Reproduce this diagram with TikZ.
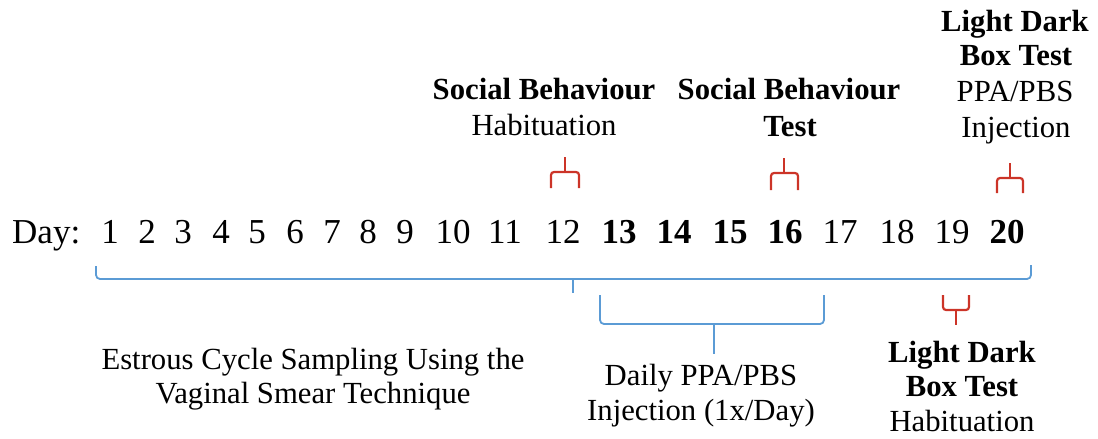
\documentclass[tikz,border=0pt]{standalone}
\usepackage{fontspec}
\setmainfont{Liberation Serif}
\definecolor{bracketblue}{RGB}{91,155,213}
\definecolor{bracketred}{RGB}{204,52,40}
\begin{document}
\begin{tikzpicture}[x=1pt,y=-1pt,
  num/.style={anchor=base,inner sep=0pt,font=\fontsize{35}{40}\selectfont},
  bnum/.style={num,font=\fontsize{35}{40}\selectfont\bfseries},
  lbl/.style={anchor=base,inner sep=0pt,font=\fontsize{30.7}{35}\selectfont},
  blbl/.style={lbl,font=\fontsize{30.7}{35}\selectfont\bfseries},
  bluebr/.style={draw=bracketblue,line width=1.8pt,rounded corners=4pt},
  redbr/.style={draw=bracketred,line width=2.2pt,rounded corners=3pt}]
\useasboundingbox (0,0) rectangle (1098,439);
% day row
\node[num,anchor=base west] (day) at (12,243) {Day:};
\node[num] (d1) at (110,243) {1};
\node[num] (d2) at (147,243) {2};
\node[num] (d3) at (183,243) {3};
\node[num] (d4) at (221,243) {4};
\node[num] (d5) at (257,243) {5};
\node[num] (d6) at (295,243) {6};
\node[num] (d7) at (332,243) {7};
\node[num] (d8) at (368,243) {8};
\node[num] (d9) at (405,243) {9};
\node[num] (d10) at (453,243) {10};
\node[num] (d11) at (505,243) {11};
\node[num] (d12) at (563,243) {12};
\node[bnum] (d13) at (619,243) {13};
\node[bnum] (d14) at (674,243) {14};
\node[bnum] (d15) at (730,243) {15};
\node[bnum] (d16) at (785,243) {16};
\node[num] (d17) at (840,243) {17};
\node[num] (d18) at (897,243) {18};
\node[num] (d19) at (952,243) {19};
\node[bnum] (d20) at (1007,243) {20};
% top labels
\node[blbl] (sbh1) at (544,99) {Social Behaviour};
\node[lbl] (sbh2) at (544,135) {Habituation};
\node[blbl] (sbt1) at (789,99) {Social Behaviour};
\node[blbl] (sbt2) at (790,136) {Test};
\node[blbl] (ldt1) at (1015,31) {Light Dark};
\node[blbl] (ldt2) at (1016,65) {Box Test};
\node[lbl] (ldt3) at (1015,101) {PPA/PBS};
\node[lbl] (ldt4) at (1016,137) {Injection};
% bottom labels
\node[lbl] (ecs1) at (313,369) {Estrous Cycle Sampling Using the};
\node[lbl] (ecs2) at (313,403) {Vaginal Smear Technique};
\node[lbl] (dpi1) at (701,385) {Daily PPA/PBS};
\node[lbl] (dpi2) at (701,420) {Injection (1x/Day)};
\node[blbl] (ldh1) at (962,362) {Light Dark};
\node[blbl] (ldh2) at (962,396) {Box Test};
\node[lbl] (ldh3) at (962,431) {Habituation};
% blue brackets
\path[bluebr] (96,266) -- (96,279) -- (1031,279) -- (1031,265);
\draw[bracketblue,line width=1.8pt] (573,279) -- (573,293);
\path[bluebr] (600,295) -- (600,324) -- (824,324) -- (824,295);
\draw[bracketblue,line width=1.8pt] (714,324) -- (714,354);
% red brackets (top)
\path[redbr] (551,188) -- (551,172) -- (579,172) -- (579,188);
\draw[bracketred,line width=2.2pt] (565,172) -- (565,157);
\path[redbr] (771,190) -- (771,173) -- (798,173) -- (798,190);
\draw[bracketred,line width=2.2pt] (784,173) -- (784,158);
\path[redbr] (997,193) -- (997,178) -- (1023,178) -- (1023,193);
\draw[bracketred,line width=2.2pt] (1010,178) -- (1010,163);
% red bracket (bottom)
\path[redbr] (943,295) -- (943,310) -- (969,310) -- (969,295);
\draw[bracketred,line width=2.2pt] (956,310) -- (956,325);
\end{tikzpicture}
\end{document}
